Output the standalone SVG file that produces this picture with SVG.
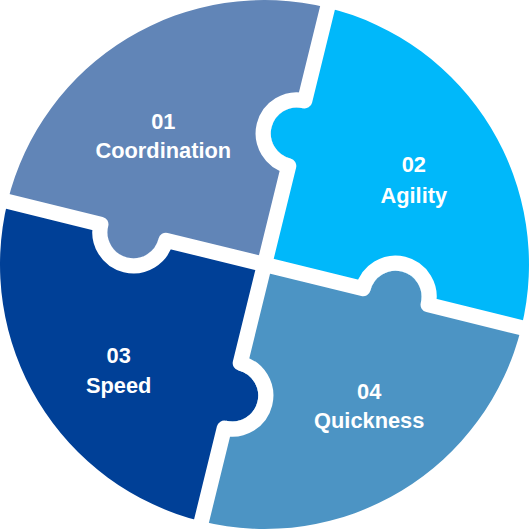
<svg xmlns="http://www.w3.org/2000/svg" width="530" height="530" viewBox="0 0 530 530">
  <style>
    .lbl { font-family: "Liberation Sans", Arial, sans-serif; font-weight: bold; font-size: 21.8px; fill: #ffffff; text-anchor: middle; }
    .gap { fill: none; stroke: #ffffff; stroke-width: 15.2; stroke-linejoin: round; stroke-linecap: butt; }
    .c1 { fill: #6185B7; }
    .c2 { fill: #00B8FA; }
    .c3 { fill: #004097; }
    .c4 { fill: #4C94C4; }
  </style>
  <rect x="0" y="0" width="530" height="530" fill="#ffffff"/>
  <g id="piece-01">
    <path class="c1" transform="translate(264.5 264.5) rotate(13.8)" d="M0,0 L0,-109 A26,26 0 0 1 0,-161 L0,-264.5 A264.5,264.5 0 0 0 -264.5,0 L-161,0 A26,26 0 0 0 -109,0 Z"/>
    <text class="lbl" x="163.3" y="128.8">01</text>
    <text class="lbl" x="163.3" y="158.2">Coordination</text>
  </g>
  <g id="piece-02">
    <path class="c2" transform="translate(264.5 264.5) rotate(13.8)" d="M0,0 L109,0 A26,26 0 0 1 161,0 L264.5,0 A264.5,264.5 0 0 0 0,-264.5 L0,-161 A26,26 0 0 0 0,-109 Z"/>
    <text class="lbl" x="413.8" y="172.4">02</text>
    <text class="lbl" x="413.8" y="202.9">Agility</text>
  </g>
  <g id="piece-03">
    <path class="c3" transform="translate(264.5 264.5) rotate(13.8)" d="M0,0 L-109,0 A26,26 0 0 1 -161,0 L-264.5,0 A264.5,264.5 0 0 0 0,264.5 L0,161 A26,26 0 0 0 0,109 Z"/>
    <text class="lbl" x="118.7" y="363.1">03</text>
    <text class="lbl" x="118.7" y="392.5">Speed</text>
  </g>
  <g id="piece-04">
    <path class="c4" transform="translate(264.5 264.5) rotate(13.8)" d="M0,0 L0,109 A26,26 0 0 1 0,161 L0,264.5 A264.5,264.5 0 0 0 264.5,0 L161,0 A26,26 0 0 0 109,0 Z"/>
    <text class="lbl" x="369.2" y="398.6">04</text>
    <text class="lbl" x="369.2" y="428">Quickness</text>
  </g>
  <g id="connectors" transform="translate(264.5 264.5) rotate(13.8)">
    <path class="gap" d="M0,-290 L0,-168.5 A33.5,33.5 0 0 0 0,-101.5 L0,101.5 A33.5,33.5 0 0 1 0,168.5 L0,290"/>
    <path class="gap" d="M-290,0 L-168.5,0 A33.5,33.5 0 0 0 -101.5,0 L101.5,0 A33.5,33.5 0 0 1 168.5,0 L290,0"/>
  </g>
</svg>
